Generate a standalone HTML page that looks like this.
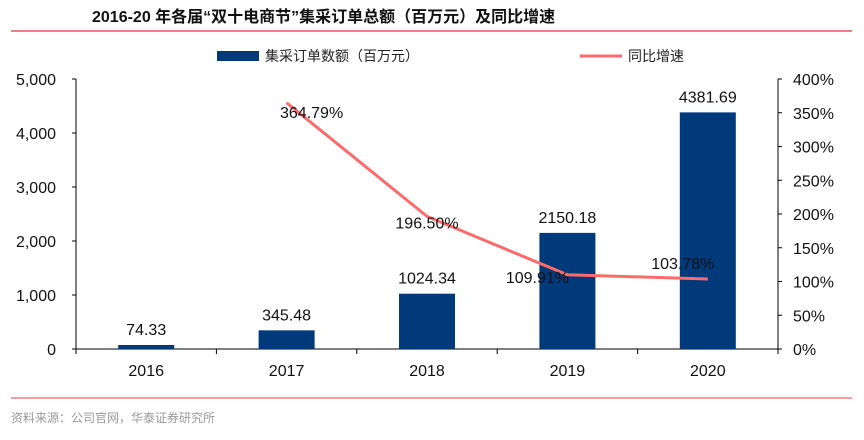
<!DOCTYPE html>
<html><head><meta charset="utf-8"><style>
body{margin:0;background:#fff;width:864px;height:435px;overflow:hidden;font-family:"Liberation Sans","Noto Sans CJK SC",sans-serif}
</style></head><body>
<svg width="864" height="435" xmlns="http://www.w3.org/2000/svg" font-family="Liberation Sans, Noto Sans CJK SC, sans-serif">
<text x="92" y="22" font-size="16" font-weight="bold" fill="#111">2016-20 年各届“双十电商节”集采订单总额（百万元）及同比增速</text>
<line x1="11" y1="31" x2="852" y2="31" stroke="#f08080" stroke-width="2"/>
<rect x="217" y="51" width="42" height="10" fill="#003a7a"/>
<text x="265" y="61" font-size="14" fill="#222">集采订单数额（百万元）</text>
<line x1="580" y1="56" x2="622" y2="56" stroke="#ff6b6b" stroke-width="3"/>
<text x="628" y="61" font-size="14" fill="#222">同比增速</text>
<g id="plot"></g>
<line x1="11" y1="398" x2="852" y2="398" stroke="#f08080" stroke-width="1.5"/>
<text x="11" y="422" font-size="12" fill="#999">资料来源：公司官网，华泰证券研究所</text>
</svg>
<script>
const categories=["2016","2017","2018","2019","2020"];
const orders=[74.33,345.48,1024.34,2150.18,4381.69];
const growth=[null,364.79,196.50,109.91,103.78];
const leftTicks=[0,1000,2000,3000,4000,5000];
const rightTicks=[0,50,100,150,200,250,300,350,400];
const NS="http://www.w3.org/2000/svg";
const g=document.getElementById("plot");
const X0=76,X1=778,Y0=349,Y1=79,bw=(X1-X0)/categories.length;
const yL=v=>Y0-(v/5000)*(Y0-Y1);
const yR=v=>Y0-(v/400)*(Y0-Y1);
const xC=i=>X0+bw*(i+0.5);
function el(t,a,txt){const e=document.createElementNS(NS,t);for(const k in a)e.setAttribute(k,a[k]);if(txt!=null)e.textContent=txt;g.appendChild(e);return e;}
let e;
e=el("line",{x1:X0,y1:Y1,x2:X0,y2:Y0,stroke:"#000"});


e=el("line",{x1:X1,y1:Y1,x2:X1,y2:Y0,stroke:"#000"});


e=el("line",{x1:X0,y1:Y0,x2:X1,y2:Y0,stroke:"#000"});


leftTicks.forEach(v=>{
 el("line",{x1:X0-4,y1:yL(v),x2:X0,y2:yL(v),stroke:"#000"});
 e=el("text",{x:X0-20,y:yL(v)+6,"text-anchor":"end","font-size":"16",fill:"#111"},v.toLocaleString("en-US"));
 
 
});
rightTicks.forEach(v=>{
 el("line",{x1:X1,y1:yR(v),x2:X1+4,y2:yR(v),stroke:"#000"});
 e=el("text",{x:X1+15,y:yR(v)+6,"font-size":"16",fill:"#111"},v+"%");
 
 
});
for(let i=0;i<=categories.length;i++)el("line",{x1:X0+bw*i,y1:Y0,x2:X0+bw*i,y2:Y0+5,stroke:"#000"});
categories.forEach((c,i)=>{
 e=el("text",{x:xC(i),y:Y0+27,"text-anchor":"middle","font-size":"16",fill:"#111"},c);
 
 
 e=el("rect",{x:xC(i)-28,y:yL(orders[i]),width:56,height:Y0-yL(orders[i]),fill:"#003a7a"});
 
 
 e=el("text",{x:xC(i),y:yL(orders[i])-10,"text-anchor":"middle","font-size":"16",fill:"#111"},orders[i].toFixed(2));
 
 
});
const pts=[];growth.forEach((v,i)=>{if(v!=null)pts.push([xC(i),yR(v),v,i]);});
e=el("polyline",{points:pts.map(p=>p[0]+","+p[1]).join(" "),fill:"none",stroke:"#ff6b6b","stroke-width":"3"});


const offs=[[25,15],[0,12],[-30,8],[-25,-10]];
pts.forEach((p,k)=>{
 const o=offs[k]||[0,-10];
 e=el("text",{x:p[0]+o[0],y:p[1]+o[1],"text-anchor":"middle","font-size":"16",fill:"#111"},p[2].toFixed(2)+"%");
 
 
});
</script>
</body></html>
